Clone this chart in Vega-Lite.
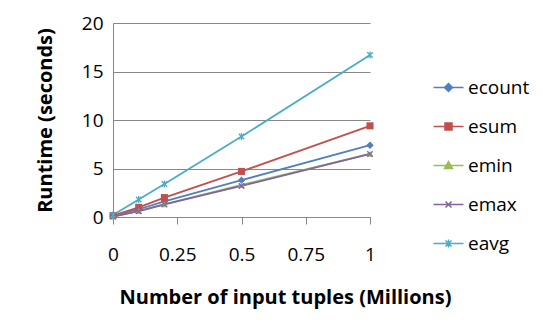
{
  "$schema": "https://vega.github.io/schema/vega-lite/v6.json",
  "autosize": "none",
  "width": 257,
  "height": 194,
  "padding": {"left": 113, "top": 23, "right": 173, "bottom": 110},
  "background": "white",
  "config": {
    "view": {"stroke": null},
    "font": "Open Sans",
    "axis": {"labelFont": "Open Sans", "titleFont": "Open Sans", "labelColor": "#000", "titleColor": "#000"}
  },
  "data": {
    "values": [
      {"x": 0, "series": "ecount", "y": 0.1},
      {"x": 0.1, "series": "ecount", "y": 0.8},
      {"x": 0.2, "series": "ecount", "y": 1.6},
      {"x": 0.5, "series": "ecount", "y": 3.8},
      {"x": 1, "series": "ecount", "y": 7.4},
      {"x": 0, "series": "esum", "y": 0.15},
      {"x": 0.1, "series": "esum", "y": 1.0},
      {"x": 0.2, "series": "esum", "y": 2.0},
      {"x": 0.5, "series": "esum", "y": 4.7},
      {"x": 1, "series": "esum", "y": 9.4},
      {"x": 0, "series": "emin", "y": 0.05},
      {"x": 0.1, "series": "emin", "y": 0.6},
      {"x": 0.2, "series": "emin", "y": 1.3},
      {"x": 0.5, "series": "emin", "y": 3.3},
      {"x": 1, "series": "emin", "y": 6.5},
      {"x": 0, "series": "emax", "y": 0.05},
      {"x": 0.1, "series": "emax", "y": 0.6},
      {"x": 0.2, "series": "emax", "y": 1.3},
      {"x": 0.5, "series": "emax", "y": 3.2},
      {"x": 1, "series": "emax", "y": 6.5},
      {"x": 0, "series": "eavg", "y": 0.2},
      {"x": 0.1, "series": "eavg", "y": 1.8},
      {"x": 0.2, "series": "eavg", "y": 3.4},
      {"x": 0.5, "series": "eavg", "y": 8.3},
      {"x": 1, "series": "eavg", "y": 16.7}
    ]
  },
  "encoding": {
    "x": {
      "field": "x", "type": "quantitative",
      "scale": {"domain": [0, 1], "nice": false},
      "axis": {
        "values": [0, 0.25, 0.5, 0.75, 1],
        "labelExpr": "datum.value + ''",
        "labelFlush": false,
        "title": "Number of input tuples (Millions)",
        "grid": false,
        "domainColor": "#888", "tickColor": "#888", "tickSize": 7,
        "labelFontSize": 19, "labelPadding": 21,
        "titleFontSize": 20, "titleFontWeight": "bold",
        "titleX": 172, "titleY": 80, "titleAnchor": null, "titleAlign": "center", "titleBaseline": "middle"
      }
    },
    "y": {
      "field": "y", "type": "quantitative",
      "scale": {"domain": [0, 20], "nice": false},
      "axis": {
        "values": [0, 5, 10, 15, 20],
        "title": "Runtime (seconds)",
        "grid": true, "gridColor": "#888",
        "domainColor": "#888", "ticks": false,
        "labelFontSize": 19, "labelPadding": 10,
        "titleFontSize": 20, "titleFontWeight": "bold",
        "titleX": -68, "titleY": 97, "titleAlign": "center", "titleBaseline": "middle", "titleAngle": -90
      }
    },
    "color": {
      "field": "series", "type": "nominal",
      "scale": {"domain": ["ecount", "esum", "emin", "emax", "eavg"], "range": ["#4f81bd", "#c0504d", "#9bbb59", "#8064a2", "#4bacc6"]},
      "legend": {
        "title": null,
        "orient": "none", "legendX": 326, "legendY": 55,
        "labelFontSize": 19, "labelFont": "Open Sans", "labelColor": "#000",
        "rowPadding": 19, "labelOffset": 10, "symbolSize": 100,
        "encode": {
          "symbols": {
            "update": {
              "shape": {"signal": "datum.value === 'ecount' ? 'M-3,0L3,0M0,-0.8L0.8,0L0,0.8L-0.8,0Z' : datum.value === 'esum' ? 'M-3,0L3,0M-0.7,-0.7L0.7,-0.7L0.7,0.7L-0.7,0.7Z' : datum.value === 'emin' ? 'M-3,0L3,0M0,-0.8L0.8,0.6L-0.8,0.6Z' : datum.value === 'emax' ? 'M-3,0L3,0M-0.6,-0.6L0.6,0.6M-0.6,0.6L0.6,-0.6' : 'M-3,0L3,0M-0.6,-0.6L0.6,0.6M-0.6,0.6L0.6,-0.6M0,-0.8L0,0.8'"},
              "stroke": {"scale": "color", "field": "value"},
              "fill": {"scale": "color", "field": "value"},
              "strokeWidth": {"value": 1.5},
              "opacity": {"value": 1}
            }
          }
        }
      }
    }
  },
  "layer": [
    {"mark": {"type": "line", "strokeWidth": 1.8}},
    {"transform": [{"filter": "datum.series === 'ecount'"}], "mark": {"type": "point", "shape": "diamond", "filled": true, "size": 55, "opacity": 1}},
    {"transform": [{"filter": "datum.series === 'esum'"}], "mark": {"type": "point", "shape": "square", "filled": true, "size": 50, "opacity": 1}},
    {"transform": [{"filter": "datum.series === 'emin'"}], "mark": {"type": "point", "shape": "triangle-up", "filled": true, "size": 45, "opacity": 1}},
    {"transform": [{"filter": "datum.series === 'emax'"}], "mark": {"type": "point", "shape": "M-1,-1L1,1M-1,1L1,-1", "filled": false, "size": 30, "strokeWidth": 1.3, "opacity": 1}},
    {"transform": [{"filter": "datum.series === 'eavg'"}], "mark": {"type": "point", "shape": "M-1,-1L1,1M-1,1L1,-1M0,-1.3L0,1.3", "filled": false, "size": 30, "strokeWidth": 1.3, "opacity": 1}}
  ]
}
